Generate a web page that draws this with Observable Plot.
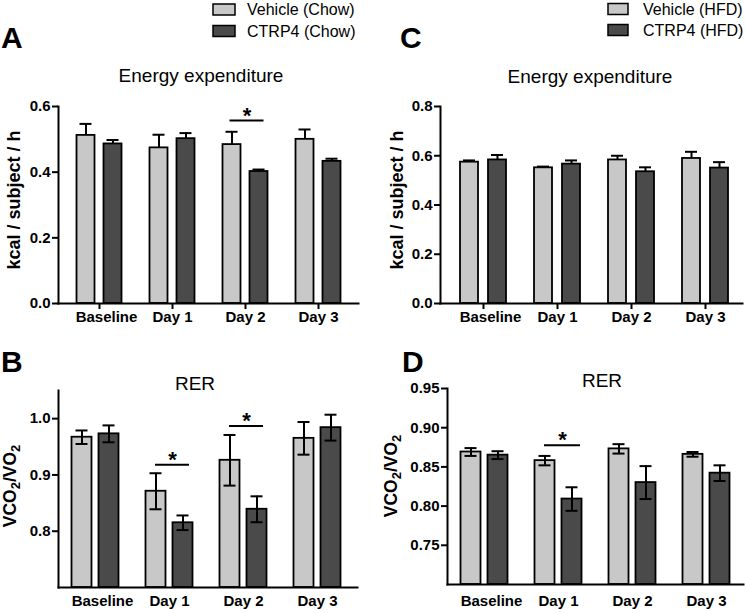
<!DOCTYPE html>
<html>
<head>
<meta charset="utf-8">
<script src="https://cdn.jsdelivr.net/npm/d3@7"></script>
<script src="https://cdn.jsdelivr.net/npm/@observablehq/plot@0.6"></script>
<style>
  html, body { margin: 0; padding: 0; background: #fff; }
  #root { position: relative; width: 745px; height: 613px; overflow: hidden; background: #fff;
          font-family: "Liberation Sans", Arial, Helvetica, sans-serif; }
  .panel { position: absolute; }
  #overlay { position: absolute; left: 0; top: 0; pointer-events: none; }
</style>
</head>
<body>
<div id="root"></div>
<script>
// ---------- data ----------
const days = ["Baseline", "Day 1", "Day 2", "Day 3"];
const seriesChow = ["Vehicle (Chow)", "CTRP4 (Chow)"];
const seriesHFD = ["Vehicle (HFD)", "CTRP4 (HFD)"];

// Panel A: Energy expenditure, chow (kcal / subject / h)
const eeChowVehicle    = [0.512, 0.474, 0.484, 0.500];
const eeChowVehicleErr = [0.035, 0.040, 0.039, 0.030];
const eeChowCTRP4      = [0.486, 0.502, 0.402, 0.433];
const eeChowCTRP4Err   = [0.012, 0.017, 0.006, 0.008];
const eeChowSigDays = ["Day 2"];
const eeChowSigY    = [0.557];
const eeChowTicks   = [0, 0.2, 0.4, 0.6];

// Panel B: RER, chow (VCO2/VO2)
const rerChowVehicle    = [0.967, 0.871, 0.926, 0.965];
const rerChowVehicleErr = [0.012, 0.032, 0.045, 0.029];
const rerChowCTRP4      = [0.973, 0.815, 0.839, 0.984];
const rerChowCTRP4Err   = [0.015, 0.013, 0.023, 0.023];
const rerChowSigDays = ["Day 1", "Day 2"];
const rerChowSigY    = [0.918, 0.987];
const rerChowTicks   = [0.8, 0.9, 1.0];

// Panel C: Energy expenditure, HFD
const eeHfdVehicle    = [0.574, 0.551, 0.583, 0.589];
const eeHfdVehicleErr = [0.007, 0.005, 0.017, 0.027];
const eeHfdCTRP4      = [0.583, 0.566, 0.535, 0.550];
const eeHfdCTRP4Err   = [0.020, 0.015, 0.018, 0.024];
const eeHfdSigDays = [];
const eeHfdSigY    = [];
const eeHfdTicks   = [0, 0.2, 0.4, 0.6, 0.8];

// Panel D: RER, HFD
const rerHfdVehicle    = [0.869, 0.858, 0.873, 0.866];
const rerHfdVehicleErr = [0.005, 0.006, 0.006, 0.003];
const rerHfdCTRP4      = [0.865, 0.809, 0.830, 0.842];
const rerHfdCTRP4Err   = [0.005, 0.015, 0.021, 0.010];
const rerHfdSigDays = ["Day 1"];
const rerHfdSigY    = [0.8777];
const rerHfdTicks   = [0.75, 0.80, 0.85, 0.90, 0.95];

// ---------- styling ----------
const FONT = '"Liberation Sans", Arial, Helvetica, sans-serif';
const LIGHT = "#c8c8c8";
const DARK = "#4a4a4a";

function makePanel(cfg) {
  const rows = days.map((d, i) => ({
    day: d, v: cfg.veh[i], ve: cfg.vehErr[i], c: cfg.ctrp[i], ce: cfg.ctrpErr[i]
  }));
  const sig = cfg.sigDays.map((d, i) => ({day: d, y: cfg.sigY[i]}));
  const lo = cfg.domain[0];
  const o = cfg.offset, bw = cfg.bw;
  const ci = (bw - 12) / 2;
  const series = [
    {val: d => d.v, err: d => d.ve, fill: LIGHT, dx: -o},
    {val: d => d.c, err: d => d.ce, fill: DARK, dx: o}
  ];
  const marks = [];
  for (const s of series) {
    marks.push(Plot.barY(rows, {x: "day", y1: () => lo, y2: s.val, dx: s.dx,
      fill: s.fill, stroke: "#000", strokeWidth: 1.8}));
  }
  for (const s of series) {
    marks.push(Plot.ruleX(rows, {x: "day",
      y1: cfg.both ? (d => s.val(d) - s.err(d)) : s.val,
      y2: d => s.val(d) + s.err(d), dx: s.dx, stroke: "#000", strokeWidth: 2}));
    marks.push(Plot.tickY(rows, {x: "day", y: d => s.val(d) + s.err(d), dx: s.dx,
      insetLeft: ci, insetRight: ci, stroke: "#000", strokeWidth: 2}));
    if (cfg.both) {
      marks.push(Plot.tickY(rows, {x: "day", y: d => s.val(d) - s.err(d), dx: s.dx,
        insetLeft: ci, insetRight: ci, stroke: "#000", strokeWidth: 2}));
    }
  }
  if (sig.length) {
    marks.push(Plot.tickY(sig, {x: "day", y: "y",
      insetLeft: cfg.sigL + bw / 2, insetRight: bw / 2 - cfg.sigR, stroke: "#000", strokeWidth: 2}));
    marks.push(Plot.text(sig, {x: "day", y: "y", text: () => "*",
      dx: (cfg.sigL + cfg.sigR) / 2, dy: -5, fontSize: 22, fontWeight: "bold", fill: "#000"}));
  }
  marks.push(Plot.axisY({ticks: cfg.ticks, tickFormat: cfg.fmt, tickSize: 6, tickPadding: 2,
    strokeWidth: 2, label: null}));
  // x tick marks (if any), then labels; "Baseline" label sits a little right of its group
  if (cfg.xTick > 0) {
    marks.push(Plot.axisX({tickSize: cfg.xTick, tickFormat: () => "", strokeWidth: 2, label: null}));
  }
  marks.push(Plot.axisX({ticks: days.slice(0, 1), tickSize: 0, tickPadding: cfg.xPad, dx: 7, label: null}));
  marks.push(Plot.axisX({ticks: days.slice(1), tickSize: 0, tickPadding: cfg.xPad, label: null}));
  marks.push(Plot.frame({anchor: "left", strokeWidth: 2, stroke: "#000"}));
  marks.push(Plot.frame({anchor: "bottom", strokeWidth: 2, stroke: "#000"}));

  const chart = Plot.plot({
    width: cfg.width, height: cfg.height,
    marginTop: cfg.mt, marginBottom: cfg.mb, marginLeft: cfg.ml, marginRight: cfg.mr,
    x: {type: "band", domain: days, paddingInner: cfg.pi, paddingOuter: cfg.po, align: cfg.align},
    y: {domain: cfg.domain},
    style: {fontFamily: FONT, fontSize: "15px", fontWeight: "bold", color: "#000",
            background: "transparent", overflow: "visible"},
    marks
  });
  const wrap = document.createElement("div");
  wrap.className = "panel";
  wrap.style.left = cfg.left + "px";
  wrap.style.top = cfg.top + "px";
  wrap.appendChild(chart);
  document.getElementById("root").appendChild(wrap);
}

// A
makePanel({left: 0, top: 90, width: 372, height: 240, mt: 16, mb: 27, ml: 58, mr: 14,
  pi: 0.756, po: 0.41, align: 0.5, bw: 18, offset: 13.5,
  domain: [0, 0.6], ticks: eeChowTicks, fmt: d3.format(".1f"), xTick: 6, xPad: 8, both: false,
  veh: eeChowVehicle, vehErr: eeChowVehicleErr, ctrp: eeChowCTRP4, ctrpErr: eeChowCTRP4Err,
  sigDays: eeChowSigDays, sigY: eeChowSigY, sigL: -15.5, sigR: 18.5});
// B
makePanel({left: 0, top: 380, width: 372, height: 233, mt: 10, mb: 26, ml: 58, mr: 15,
  pi: 0.7305, po: 0.38, align: 0.48, bw: 20, offset: 13.5,
  domain: [0.7, 1.05], ticks: rerChowTicks, fmt: d3.format(".1f"), xTick: 0, xPad: 8, both: true,
  veh: rerChowVehicle, vehErr: rerChowVehicleErr, ctrp: rerChowCTRP4, ctrpErr: rerChowCTRP4Err,
  sigDays: rerChowSigDays, sigY: rerChowSigY, sigL: -14, sigR: 20});
// C
makePanel({left: 380, top: 90, width: 365, height: 240, mt: 16, mb: 27, ml: 60, mr: 3,
  pi: 0.7574, po: 0.4137, align: 0.546, bw: 18, offset: 14,
  domain: [0, 0.8], ticks: eeHfdTicks, fmt: d3.format(".1f"), xTick: 6, xPad: 8, both: false,
  veh: eeHfdVehicle, vehErr: eeHfdVehicleErr, ctrp: eeHfdCTRP4, ctrpErr: eeHfdCTRP4Err,
  sigDays: eeHfdSigDays, sigY: eeHfdSigY, sigL: -15, sigR: 19});
// D
makePanel({left: 380, top: 380, width: 365, height: 233, mt: 8, mb: 29, ml: 67, mr: 2,
  pi: 0.7305, po: 0.36, align: 0.496, bw: 20, offset: 13.5,
  domain: [0.7, 0.95], ticks: rerHfdTicks, fmt: d3.format(".2f"), xTick: 0, xPad: 11, both: true,
  veh: rerHfdVehicle, vehErr: rerHfdVehicleErr, ctrp: rerHfdCTRP4, ctrpErr: rerHfdCTRP4Err,
  sigDays: rerHfdSigDays, sigY: rerHfdSigY, sigL: -14, sigR: 22});

// ---------- overlay text: panel letters, titles, legends, axis titles ----------
const ov = d3.select("#root").append("svg").attr("id", "overlay")
  .attr("width", 745).attr("height", 613)
  .style("font-family", FONT);

const letters = [["A", 1, 48], ["C", 400, 48], ["B", 1, 372], ["D", 402, 372]];
for (const [t, x, y] of letters) {
  ov.append("text").attr("x", x).attr("y", y).attr("font-size", 30).attr("font-weight", "bold").text(t);
}
const titles = [["Energy expenditure", 201, 82], ["Energy expenditure", 590, 83], ["RER", 195, 390], ["RER", 602, 387]];
for (const [t, x, y] of titles) {
  ov.append("text").attr("x", x).attr("y", y).attr("font-size", 19).attr("text-anchor", "middle").text(t);
}
function legend(names, x, tx, baselines, w) {
  names.forEach((n, i) => {
    ov.append("rect").attr("x", x).attr("y", baselines[i] - 11).attr("width", w).attr("height", 11)
      .attr("fill", i === 0 ? LIGHT : DARK).attr("stroke", "#000").attr("stroke-width", 1.5);
    ov.append("text").attr("x", tx).attr("y", baselines[i]).attr("font-size", 16).text(n);
  });
}
legend(seriesChow, 213, 247, [15, 36.5], 22);
legend(seriesHFD, 608, 643, [14.5, 35.5], 20);

function yLabel(x, y, size, parts) {
  const t = ov.append("text").attr("transform", `translate(${x},${y}) rotate(-90)`)
    .attr("text-anchor", "middle").attr("font-size", size).attr("font-weight", "bold");
  parts.forEach(([s, sub], i) => {
    const ts = t.append("tspan").text(s);
    if (sub) ts.attr("font-size", Math.round(size * 0.72)).attr("dy", 4);
    else if (i > 0) ts.attr("dy", -4);
  });
}
yLabel(20, 200, 18, [["kcal / subject / h", false]]);
yLabel(403, 200, 18, [["kcal / subject / h", false]]);
const vco = [["VCO", false], ["2", true], ["/VO", false], ["2", true]];
yLabel(16, 486, 17.5, vco);
yLabel(397, 476, 17.5, vco);
</script>
</body>
</html>
